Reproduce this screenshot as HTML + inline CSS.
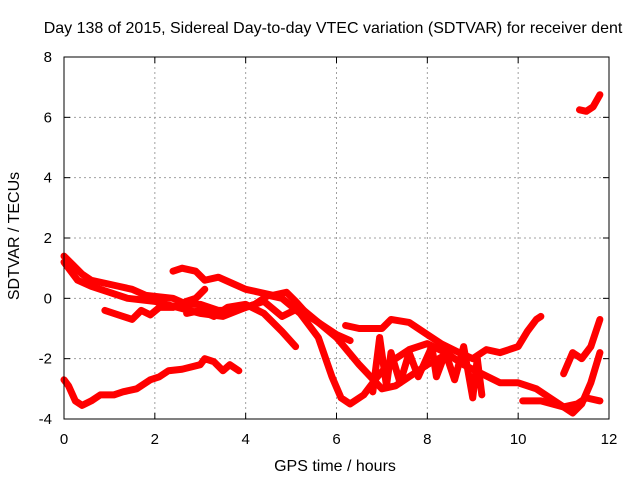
<!DOCTYPE html>
<html><head><meta charset="utf-8"><style>
body{margin:0;background:#fff;}
svg text{font-family:"Liberation Sans",sans-serif;font-size:15px;fill:#000;}
svg text.big{font-size:16px;}
</style></head><body>
<svg id="chart" width="640" height="480" xmlns="http://www.w3.org/2000/svg">
<text class="big" x="333" y="33" text-anchor="middle">Day 138 of 2015, Sidereal Day-to-day VTEC variation (SDTVAR) for receiver dent</text>
<text class="big" transform="translate(19,236) rotate(-90)" text-anchor="middle">SDTVAR / TECUs</text>
<text class="big" x="335" y="471" text-anchor="middle">GPS time / hours</text>
<g id="grid"></g><g id="series"></g><g id="axes"></g>
</svg>
<script>
const xTicks=[0,2,4,6,8,10,12];
const yTicks=[-4,-2,0,2,4,6,8];
const s1=[[0,-2.7],[0.1,-2.9],[0.25,-3.4],[0.4,-3.55],[0.6,-3.4],[0.8,-3.2],[1.1,-3.2],[1.3,-3.1],[1.6,-3.0],[1.9,-2.7],[2.1,-2.6],[2.3,-2.4],[2.6,-2.35],[3.0,-2.2],[3.1,-2.0],[3.3,-2.1],[3.5,-2.4],[3.65,-2.2],[3.85,-2.4]];
const s2=[[0,1.4],[0.2,1.1],[0.4,0.8],[0.6,0.6],[0.9,0.5],[1.2,0.4],[1.5,0.3],[1.8,0.1],[2.1,0.05],[2.4,0.0],[2.7,-0.2],[3.0,-0.2],[3.4,-0.4],[3.8,-0.4],[4.2,-0.2],[4.5,0.1],[4.8,0.0],[5.2,-0.5],[5.6,-1.3],[5.9,-2.6],[6.1,-3.3],[6.3,-3.5],[6.6,-3.2],[6.9,-2.6],[7.2,-2.1],[7.6,-1.7],[8.0,-1.5],[8.4,-1.8],[8.8,-2.2],[9.2,-2.5],[9.6,-2.8],[10.0,-2.8],[10.4,-3.0],[10.7,-3.3],[11.0,-3.6],[11.2,-3.8],[11.4,-3.5],[11.6,-2.8],[11.8,-1.8]];
const s3=[[0,1.2],[0.3,0.6],[0.6,0.4],[1.0,0.2],[1.4,0.0],[2.0,-0.1],[2.5,-0.3],[3.0,-0.5],[3.5,-0.6],[4.0,-0.3],[4.4,-0.1],[4.8,-0.6],[5.2,-0.3],[5.6,-0.8],[6.0,-1.3],[6.5,-2.2],[7.0,-3.0],[7.3,-2.9],[7.6,-2.6],[8.0,-2.2],[8.5,-1.8]];
const s4=[[0.9,-0.4],[1.1,-0.5],[1.3,-0.6],[1.5,-0.7],[1.7,-0.4],[1.9,-0.55],[2.1,-0.3],[2.4,-0.3],[2.7,-0.1],[2.9,0.0],[3.1,0.3]];
const s5=[[2.4,0.9],[2.6,1.0],[2.9,0.9],[3.1,0.6],[3.4,0.7],[3.7,0.5],[4.0,0.3],[4.3,0.2],[4.6,0.1],[4.9,0.2],[5.1,-0.1],[5.4,-0.6],[5.7,-0.9],[6.0,-1.2],[6.3,-1.4]];
const s6=[[2.7,-0.5],[3.0,-0.4],[3.3,-0.6],[3.6,-0.3],[4.0,-0.2],[4.4,-0.5],[4.8,-1.1],[5.1,-1.6]];
const s7=[[6.2,-0.9],[6.5,-1.0],[7.0,-1.0],[7.2,-0.7],[7.6,-0.8],[8.0,-1.2],[8.3,-1.5],[8.7,-1.8],[9.0,-2.0],[9.3,-1.7],[9.6,-1.8],[10.0,-1.6],[10.2,-1.1],[10.4,-0.7],[10.5,-0.6]];
const s8=[[6.8,-3.1],[6.95,-1.3],[7.1,-2.9],[7.2,-1.8],[7.4,-2.8],[7.6,-1.8],[7.8,-2.6],[8.1,-1.6],[8.2,-2.6],[8.4,-1.8],[8.6,-2.7],[8.8,-1.6],[9.0,-3.3],[9.1,-2.0],[9.2,-3.2]];
const s9=[[10.1,-3.4],[10.5,-3.4],[11.0,-3.6],[11.3,-3.5],[11.5,-3.3],[11.8,-3.4]];
const s10=[[11.0,-2.5],[11.2,-1.8],[11.4,-2.0],[11.6,-1.6],[11.8,-0.7]];
const s11=[[11.35,6.25],[11.5,6.2],[11.65,6.35],[11.8,6.75]];
const allSeries=[s1,s2,s3,s4,s5,s6,s7,s8,s9,s10,s11];
const L=64,R=609,T=57,B=419;
const X=h=>L+h/12*(R-L);
const Y=v=>B-(v+4)/12*(B-T);
const NS="http://www.w3.org/2000/svg";
function mk(t,a,p){const e=document.createElementNS(NS,t);for(const k in a)e.setAttribute(k,a[k]);p.appendChild(e);return e;}
const grid=document.getElementById('grid'),axes=document.getElementById('axes'),ser=document.getElementById('series');
xTicks.forEach(t=>{const x=X(t);
 if(t>0&&t<12){const g=mk('line',{x1:x,x2:x,y1:T,y2:B,stroke:'#a0a0a0','stroke-dasharray':'2,3'},grid);
 
 }
 const tx=mk('text',{x:x,y:B+25,'text-anchor':'middle'},axes);tx.textContent=t;
 
 
 mk('line',{x1:x,x2:x,y1:B,y2:B-6,stroke:'#000'},axes);mk('line',{x1:x,x2:x,y1:T,y2:T+6,stroke:'#000'},axes);});
yTicks.forEach(t=>{const y=Y(t);
 if(t>-4&&t<8){const g=mk('line',{x1:L,x2:R,y1:y,y2:y,stroke:'#a0a0a0','stroke-dasharray':'2,3'},grid);
 
 }
 const tx=mk('text',{x:L-12,y:y+5,'text-anchor':'end'},axes);tx.textContent=t;
 
 
 mk('line',{x1:L,x2:L+6,y1:y,y2:y,stroke:'#000'},axes);mk('line',{x1:R,x2:R-6,y1:y,y2:y,stroke:'#000'},axes);});
const fr=mk('rect',{x:L,y:T,width:R-L,height:B-T,fill:'none',stroke:'#000'},axes);


allSeries.forEach((s,i)=>{
 const pl=mk('polyline',{points:s.map(p=>X(p[0])+','+Y(p[1])).join(' '),fill:'none',stroke:'#ff0000','stroke-width':7,'stroke-linejoin':'round','stroke-linecap':'round'},ser);
 
 
});
</script>
</body></html>
